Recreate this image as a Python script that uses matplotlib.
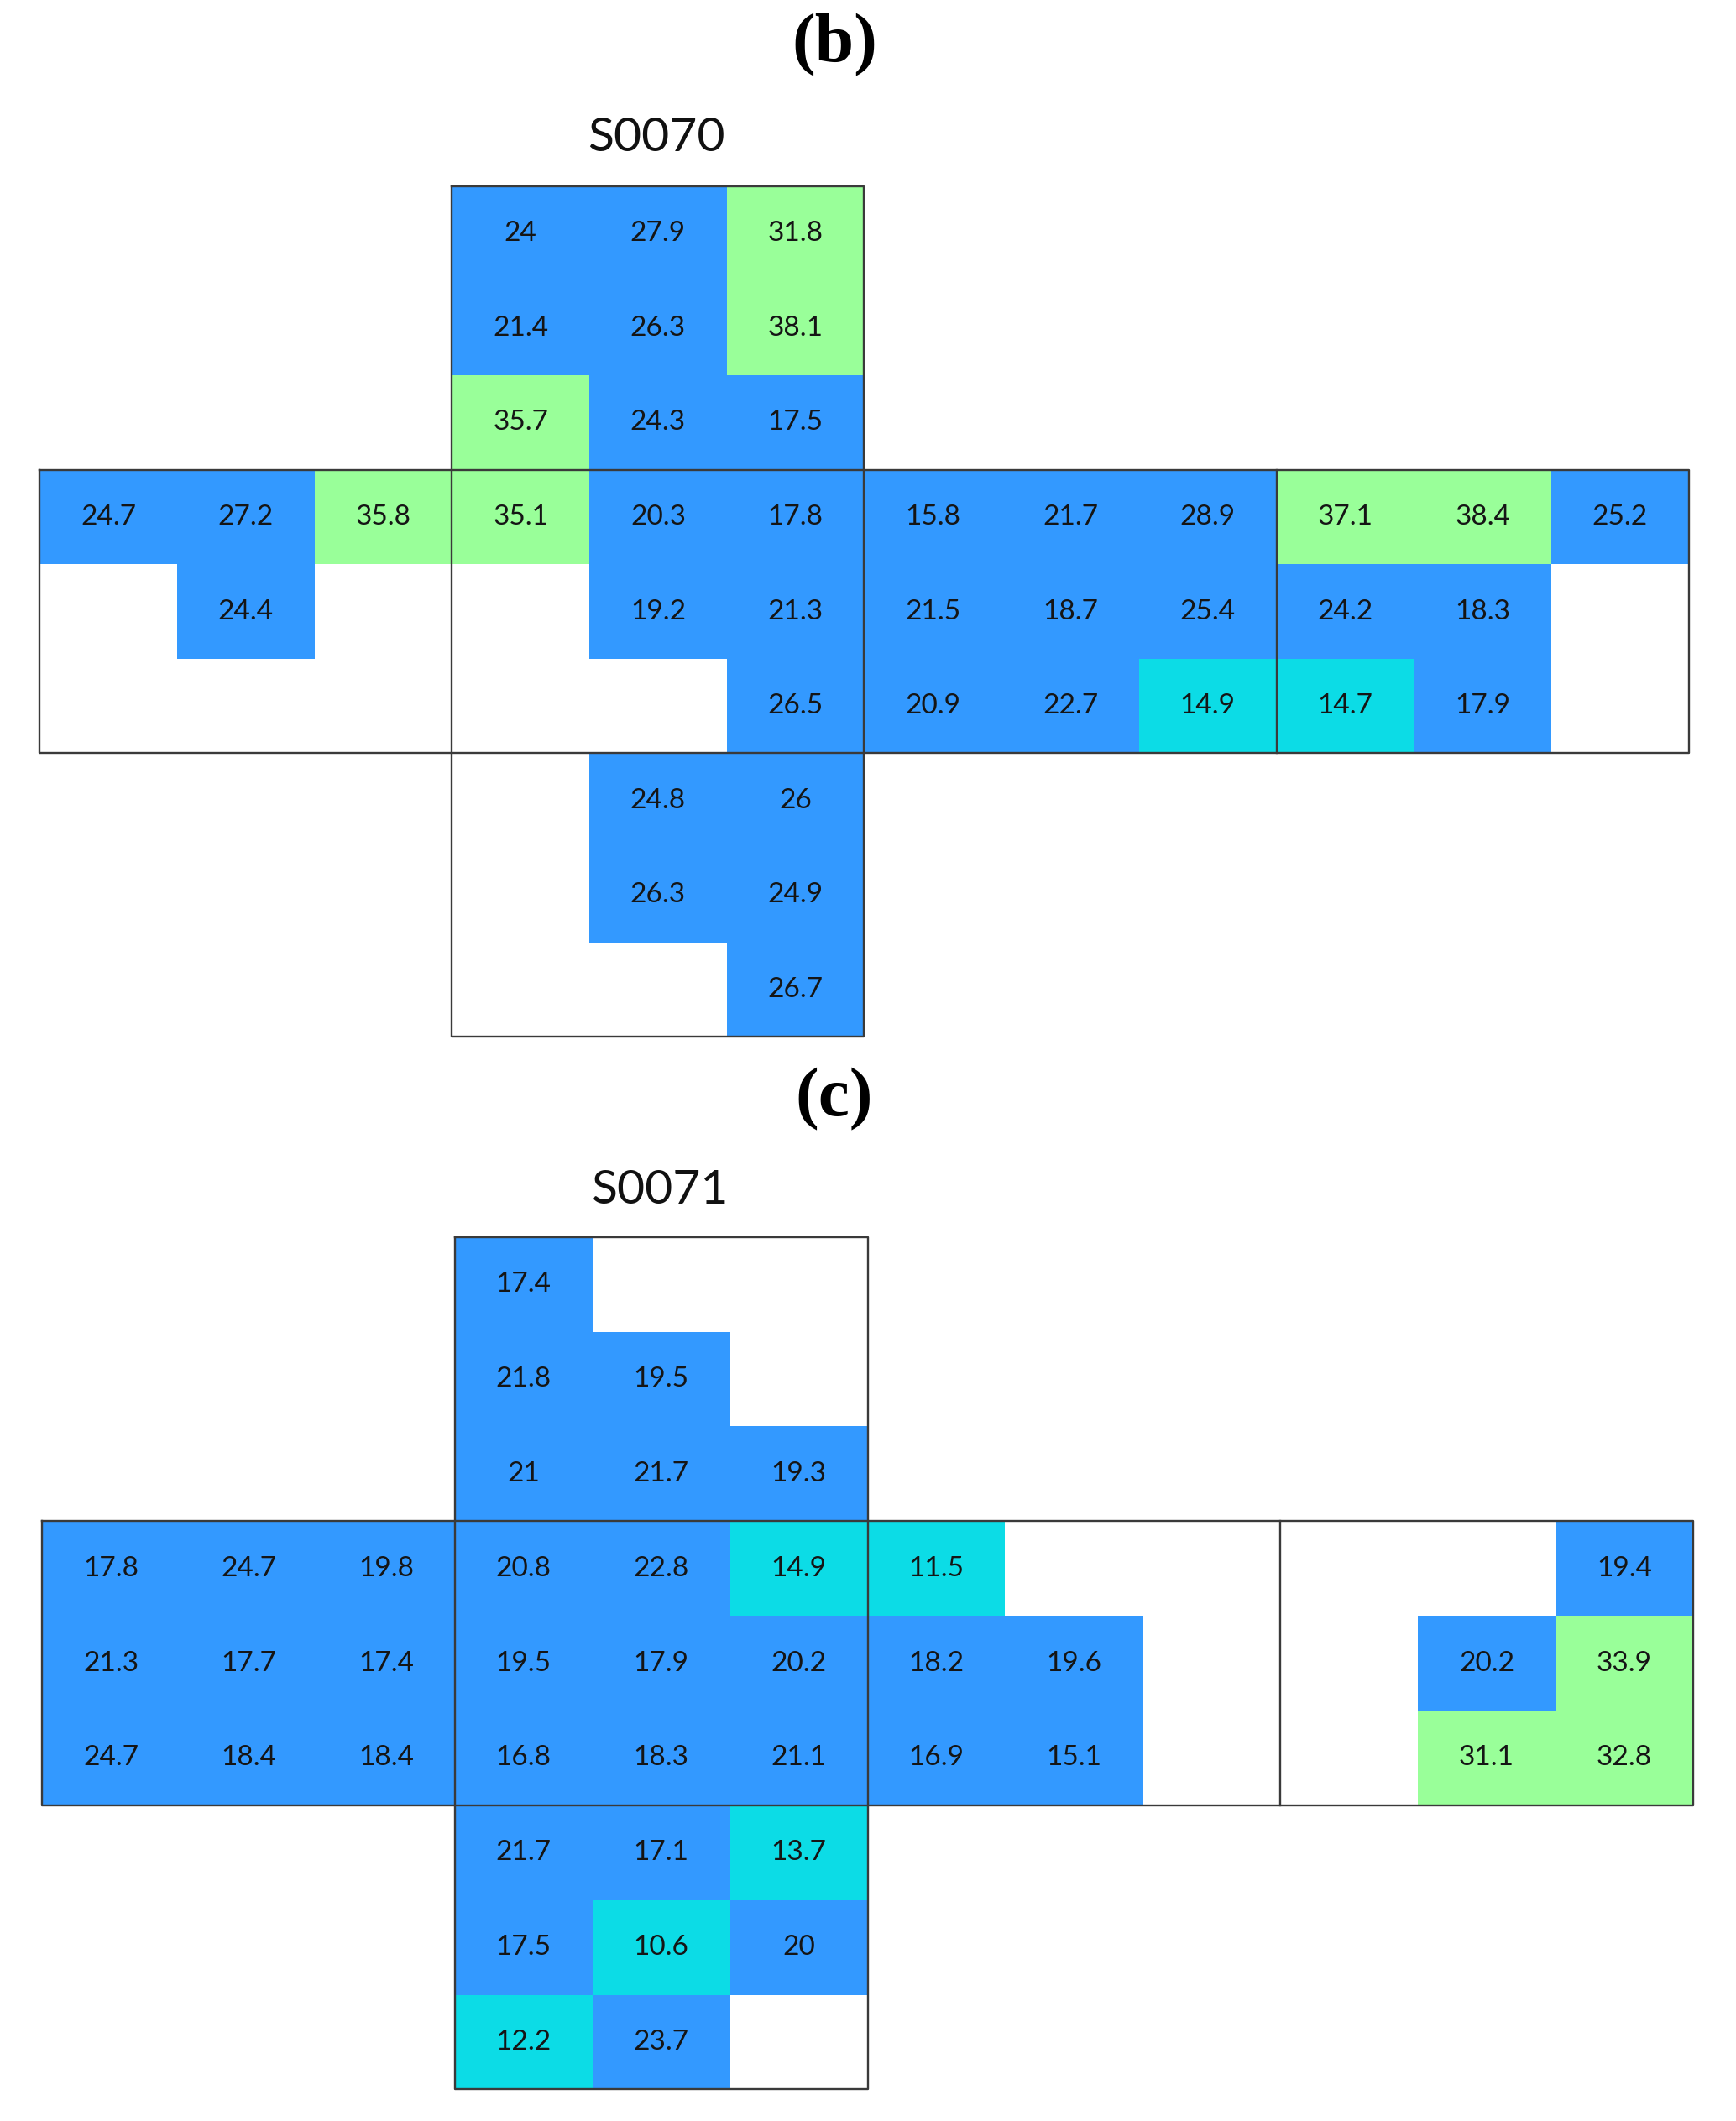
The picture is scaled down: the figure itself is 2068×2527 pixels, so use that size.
import numpy as np
import matplotlib
matplotlib.use("Agg")
import matplotlib.pyplot as plt
from matplotlib.colors import ListedColormap, BoundaryNorm

N = None

# panel (b): cube net of sample S0070, 9 rows x 12 cols, None = no value
s0070 = [
    [N, N, N, 24, 27.9, 31.8, N, N, N, N, N, N],
    [N, N, N, 21.4, 26.3, 38.1, N, N, N, N, N, N],
    [N, N, N, 35.7, 24.3, 17.5, N, N, N, N, N, N],
    [24.7, 27.2, 35.8, 35.1, 20.3, 17.8, 15.8, 21.7, 28.9, 37.1, 38.4, 25.2],
    [N, 24.4, N, N, 19.2, 21.3, 21.5, 18.7, 25.4, 24.2, 18.3, N],
    [N, N, N, N, N, 26.5, 20.9, 22.7, 14.9, 14.7, 17.9, N],
    [N, N, N, N, 24.8, 26, N, N, N, N, N, N],
    [N, N, N, N, 26.3, 24.9, N, N, N, N, N, N],
    [N, N, N, N, N, 26.7, N, N, N, N, N, N],
]

# panel (c): sample S0071
s0071 = [
    [N, N, N, 17.4, N, N, N, N, N, N, N, N],
    [N, N, N, 21.8, 19.5, N, N, N, N, N, N, N],
    [N, N, N, 21, 21.7, 19.3, N, N, N, N, N, N],
    [17.8, 24.7, 19.8, 20.8, 22.8, 14.9, 11.5, N, N, N, N, 19.4],
    [21.3, 17.7, 17.4, 19.5, 17.9, 20.2, 18.2, 19.6, N, N, 20.2, 33.9],
    [24.7, 18.4, 18.4, 16.8, 18.3, 21.1, 16.9, 15.1, N, N, 31.1, 32.8],
    [N, N, N, 21.7, 17.1, 13.7, N, N, N, N, N, N],
    [N, N, N, 17.5, 10.6, 20, N, N, N, N, N, N],
    [N, N, N, 12.2, 23.7, N, N, N, N, N, N, N],
]

labels = ["(b)", "(c)"]
titles = ["S0070", "S0071"]

# class limits: cyan below 15, blue 15-30, green above 30
bounds = [0, 15, 30, 60]
colors = ["#0CDCE6", "#3399FF", "#99FF99"]
cmap = ListedColormap(colors)
norm = BoundaryNorm(bounds, cmap.N)

W, H = 2068, 2527
fig = plt.figure(figsize=(W / 100, H / 100), dpi=100)

# grid extents in pixels (left, top, right, bottom)
boxes = [(39, 216, 2020, 1241), (42, 1468, 2025, 2495)]
label_y = [54, 1310]
title_y = [164, 1418]

edge = "#3a3a3a"

for grid, box, lab, tit, ly, ty in zip([s0070, s0071], boxes, labels, titles, label_y, title_y):
    l, t, r, b = box
    ax = fig.add_axes([l / W, 1 - b / H, (r - l) / W, (b - t) / H])
    vals = np.array([[np.nan if v is None else v for v in row] for row in grid])
    data = np.ma.masked_invalid(vals)
    ax.pcolormesh(np.arange(13), np.arange(10), data, cmap=cmap, norm=norm)

    for i in range(vals.shape[0]):
        for j in range(vals.shape[1]):
            v = grid[i][j]
            if v is None:
                continue
            ax.text(j + 0.5, i + 0.5, f"{v:g}", ha="center", va="center",
                    fontsize=24, family="Lato", color="#151515")

    # outline of the cube net
    ax.plot([0, 12, 12, 0, 0], [3, 3, 6, 6, 3], color=edge, lw=1.7)
    ax.plot([3, 6, 6, 3, 3], [0, 0, 9, 9, 0], color=edge, lw=1.7)
    ax.plot([9, 9], [3, 6], color=edge, lw=1.7)

    ax.set_xlim(-0.05, 12.05)
    ax.set_ylim(9.05, -0.05)
    ax.axis("off")

    fig.text((l + 4.5 * (r - l) / 12) / W, 1 - ty / H, tit, ha="center", va="center",
             fontsize=41, family="Lato", color="#111111")
    fig.text(994 / W, 1 - ly / H, lab, ha="center", va="center",
             fontsize=60, family="Liberation Serif", fontweight="bold")

fig.savefig("out.png", dpi=100, facecolor="white")
